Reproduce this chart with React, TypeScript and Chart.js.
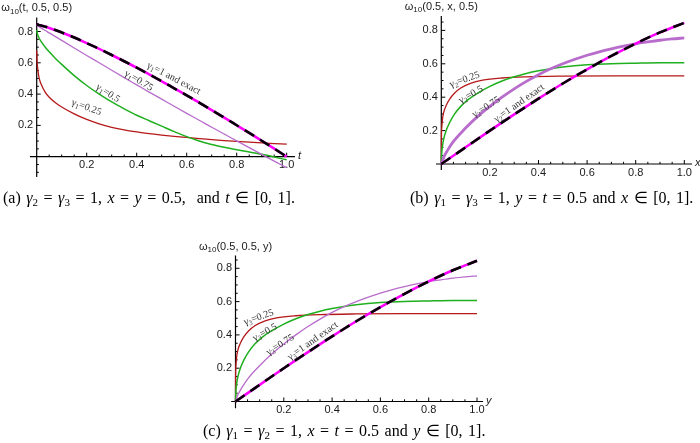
import React, { useEffect, useRef } from "react";
import { Chart, registerables } from "chart.js";

Chart.register(...registerables);

// ---------------- Data: panel (a)  ω10(t, 0.5, 0.5) ----------------
const tGrid = [0, 0.002, 0.005, 0.01, 0.02, 0.035, 0.05, 0.075, 0.1, 0.15, 0.2, 0.25, 0.3, 0.35, 0.4, 0.45, 0.5, 0.55, 0.6, 0.65, 0.7, 0.75, 0.8, 0.85, 0.9, 0.95, 1];
const timeGamma025 = [0.68, 0.6, 0.55, 0.5, 0.455, 0.41, 0.38, 0.345, 0.318, 0.274, 0.238, 0.21, 0.188, 0.171, 0.158, 0.147, 0.138, 0.13, 0.123, 0.116, 0.109, 0.103, 0.098, 0.093, 0.088, 0.084, 0.08];
const timeGamma05 = [0.81, 0.79, 0.775, 0.757, 0.73, 0.698, 0.67, 0.628, 0.59, 0.518, 0.455, 0.4, 0.35, 0.306, 0.265, 0.23, 0.195, 0.16, 0.128, 0.1, 0.078, 0.06, 0.044, 0.03, 0.015, -0.002, -0.02];
const timeGamma075 = [0.84, 0.838, 0.835, 0.83, 0.82, 0.806, 0.791, 0.767, 0.743, 0.695, 0.647, 0.6, 0.552, 0.505, 0.459, 0.413, 0.368, 0.322, 0.277, 0.233, 0.188, 0.145, 0.101, 0.058, 0.015, -0.028, -0.07];
const tExact = [0, 0.05, 0.1, 0.15, 0.2, 0.25, 0.3, 0.35, 0.4, 0.45, 0.5, 0.55, 0.6, 0.65, 0.7, 0.75, 0.8, 0.85, 0.9, 0.95, 1];
const timeExact = [0.845, 0.823, 0.794, 0.762, 0.726, 0.689, 0.65, 0.61, 0.569, 0.526, 0.482, 0.437, 0.392, 0.346, 0.298, 0.25, 0.201, 0.152, 0.102, 0.052, 0];

// ---------------- Data: panels (b) and (c)  ω10(0.5, x, 0.5), ω10(0.5, 0.5, y) ----------------
const sRedX = [0, 0.0005, 0.002, 0.005, 0.01, 0.02, 0.035, 0.055, 0.08, 0.12, 0.17, 0.25, 0.35, 0.5, 0.7, 1];
const spaceGamma025 = [0, 0.15, 0.22, 0.27, 0.31, 0.35, 0.39, 0.425, 0.455, 0.483, 0.502, 0.515, 0.522, 0.526, 0.528, 0.528];
const sGreenX = [0, 0.002, 0.005, 0.01, 0.02, 0.035, 0.055, 0.08, 0.11, 0.15, 0.2, 0.25, 0.3, 0.35, 0.4, 0.45, 0.5, 0.6, 0.7, 0.8, 0.9, 1];
const spaceGamma05 = [0, 0.07, 0.11, 0.15, 0.2, 0.25, 0.3, 0.345, 0.385, 0.425, 0.465, 0.497, 0.522, 0.542, 0.558, 0.571, 0.581, 0.594, 0.601, 0.604, 0.606, 0.606];
const sPurpleX = [0, 0.01, 0.025, 0.05, 0.1, 0.15, 0.2, 0.25, 0.3, 0.35, 0.4, 0.45, 0.5, 0.55, 0.6, 0.65, 0.7, 0.75, 0.8, 0.85, 0.9, 0.95, 1];
const spaceGamma075 = [0, 0.04, 0.08, 0.135, 0.215, 0.285, 0.345, 0.4, 0.45, 0.495, 0.535, 0.57, 0.6, 0.627, 0.651, 0.672, 0.69, 0.706, 0.72, 0.731, 0.741, 0.749, 0.755];
const sExactX = [0, 0.1, 0.2, 0.3, 0.4, 0.5, 0.6, 0.7, 0.8, 0.9, 1];
const spaceExact = [0, 0.1, 0.2, 0.297, 0.391, 0.482, 0.567, 0.647, 0.721, 0.788, 0.845];

// ---------------- Ticks ----------------
const xTickValues = [0.2, 0.4, 0.6, 0.8, 1.0];
const xTickLabels = ["0.2", "0.4", "0.6", "0.8", "1.0"];
const yTickValues = [0.2, 0.4, 0.6, 0.8];
const yTickLabels = ["0.2", "0.4", "0.6", "0.8"];

const W = 700;
const H = 443;
const SANS = '"Liberation Sans", Arial, sans-serif';
const SERIF = '"Liberation Serif", "Times New Roman", serif';

const C_RED = "#B51818";
const C_GREEN = "#1FAF1F";
const C_PURPLE = "#B86CCB";
const C_MAGENTA = "#FF00FF";

function pts(xs: number[], ys: number[]) {
  return xs.map((x, i) => ({ x, y: ys[i] }));
}

type Label = { x: number; y: number; a: number; sub: string; rest: string };

type Panel = {
  key: string;
  x0: number; xu: number; y0: number; yu: number;
  xmin: number; xmax: number; ymin: number; ymax: number;
  axisVar: string;
  titleRest: string;
  labels: Label[];
  series: { xs: number[]; ys: number[]; color: string; width: number; dash?: number[] }[];
};

function bcLabels(sub: string): Label[] {
  return [
    { x: 0.095, y: 0.51, a: -19, sub, rest: "=0.25" },
    { x: 0.12, y: 0.42, a: -29, sub, rest: "=0.5" },
    { x: 0.183, y: 0.345, a: -32, sub, rest: "=0.75" },
    { x: 0.318, y: 0.368, a: -35, sub, rest: "=1 and exact" },
  ];
}

function bcSeries(purpleWidth: number) {
  return [
    { xs: sExactX, ys: spaceExact, color: "#000000", width: 2.6, dash: [11, 7] },
    { xs: sExactX, ys: spaceExact, color: C_MAGENTA, width: 2.6 },
    { xs: sPurpleX, ys: spaceGamma075, color: C_PURPLE, width: purpleWidth },
    { xs: sGreenX, ys: spaceGamma05, color: C_GREEN, width: 1.5 },
    { xs: sRedX, ys: spaceGamma025, color: C_RED, width: 1.3 },
  ];
}

const PANELS: Panel[] = [
  {
    key: "a", x0: 36.7, xu: 250, y0: 156.7, yu: 156.5,
    xmin: -0.027, xmax: 1.033, ymin: -0.13, ymax: 0.89,
    axisVar: "t", titleRest: "(t, 0.5, 0.5)",
    labels: [
      { x: 0.55, y: 0.505, a: 28, sub: "1", rest: "=1 and exact" },
      { x: 0.41, y: 0.49, a: 31, sub: "1", rest: "=0.75" },
      { x: 0.287, y: 0.41, a: 33, sub: "1", rest: "=0.5" },
      { x: 0.2, y: 0.32, a: 20, sub: "1", rest: "=0.25" },
    ],
    series: [
      { xs: tExact, ys: timeExact, color: "#000000", width: 2.6, dash: [11, 7] },
      { xs: tExact, ys: timeExact, color: C_MAGENTA, width: 2.6 },
      { xs: tGrid, ys: timeGamma075, color: C_PURPLE, width: 1.3 },
      { xs: tGrid, ys: timeGamma05, color: C_GREEN, width: 1.5 },
      { xs: tGrid, ys: timeGamma025, color: C_RED, width: 1.3 },
    ],
  },
  {
    key: "b", x0: 441.3, xu: 243, y0: 164, yu: 167,
    xmin: -0.022, xmax: 1.032, ymin: -0.036, ymax: 0.886,
    axisVar: "x", titleRest: "(0.5, x, 0.5)",
    labels: bcLabels("2"),
    series: bcSeries(2.8),
  },
  {
    key: "c", x0: 235.5, xu: 241.5, y0: 401.5, yu: 166.5,
    xmin: -0.018, xmax: 1.025, ymin: -0.04, ymax: 0.877,
    axisVar: "y", titleRest: "(0.5, 0.5, y)",
    labels: bcLabels("3"),
    series: bcSeries(1.3),
  },
];

function decor(p: Panel) {
  return {
    id: "decor_" + p.key,
    beforeDatasetsDraw(chart: any) {
      const { ctx, chartArea: ca, scales } = chart;
      const X = (v: number) => scales.x.getPixelForValue(v);
      const Y = (v: number) => scales.y.getPixelForValue(v);
      const ox = X(0);
      const oy = Y(0);
      ctx.save();
      ctx.strokeStyle = "#000";
      ctx.lineWidth = 1.2;
      ctx.beginPath();
      ctx.moveTo(ca.left, oy);
      ctx.lineTo(ca.right, oy);
      ctx.moveTo(ox, ca.top);
      ctx.lineTo(ox, ca.bottom);
      ctx.stroke();
      ctx.lineWidth = 1;
      ctx.beginPath();
      for (let k = Math.ceil(p.xmin / 0.05); k * 0.05 <= p.xmax + 1e-9; k++) {
        if (k === 0) continue;
        const len = k % 4 === 0 ? 4 : 2.2;
        const px = X(k * 0.05);
        ctx.moveTo(px, oy);
        ctx.lineTo(px, oy - len);
      }
      for (let k = Math.ceil(p.ymin / 0.05); k * 0.05 <= p.ymax + 1e-9; k++) {
        if (k === 0) continue;
        const len = k % 4 === 0 ? 4 : 2.2;
        const py = Y(k * 0.05);
        ctx.moveTo(ox, py);
        ctx.lineTo(ox + len, py);
      }
      ctx.stroke();

      ctx.fillStyle = "#1a1a1a";
      ctx.font = `11px ${SANS}`;
      ctx.textBaseline = "middle";
      ctx.textAlign = "center";
      xTickValues.forEach((v, i) => ctx.fillText(xTickLabels[i], X(v), oy + 8.5));
      ctx.textAlign = "right";
      yTickValues.forEach((v, i) => ctx.fillText(yTickLabels[i], ox - 3.5, Y(v)));

      ctx.textAlign = "left";
      ctx.font = `italic 11px ${SANS}`;
      ctx.fillText(p.axisVar, ca.right + 3, oy - 1);

      // y-axis title  ω10(...)
      ctx.font = `11px ${SANS}`;
      const w1 = ctx.measureText("ω").width;
      const w3 = ctx.measureText(p.titleRest).width;
      ctx.font = `8px ${SANS}`;
      const w2 = ctx.measureText("10").width;
      let sx = ox - (w1 + w2 + w3) / 2;
      if (sx < 1) sx = 1;
      const ty = ca.top - 9;
      ctx.font = `11px ${SANS}`;
      ctx.fillText("ω", sx, ty);
      ctx.font = `8px ${SANS}`;
      ctx.fillText("10", sx + w1, ty + 3);
      ctx.font = `11px ${SANS}`;
      ctx.fillText(p.titleRest, sx + w1 + w2, ty);
      ctx.restore();
    },
    afterDatasetsDraw(chart: any) {
      const { ctx, scales } = chart;
      const X = (v: number) => scales.x.getPixelForValue(v);
      const Y = (v: number) => scales.y.getPixelForValue(v);
      ctx.save();
      ctx.fillStyle = "#333";
      ctx.textBaseline = "alphabetic";
      ctx.textAlign = "left";
      p.labels.forEach((l) => {
        ctx.save();
        ctx.translate(X(l.x), Y(l.y));
        ctx.rotate((l.a * Math.PI) / 180);
        ctx.font = `10px ${SERIF}`;
        const a = ctx.measureText("γ").width;
        const c = ctx.measureText(l.rest).width;
        ctx.font = `7px ${SERIF}`;
        const b = ctx.measureText(l.sub).width;
        let x = -(a + b + c) / 2;
        ctx.font = `10px ${SERIF}`;
        ctx.fillText("γ", x, 3.5);
        x += a;
        ctx.font = `7px ${SERIF}`;
        ctx.fillText(l.sub, x, 5.5);
        x += b;
        ctx.font = `10px ${SERIF}`;
        ctx.fillText(l.rest, x, 3.5);
        ctx.restore();
      });
      ctx.restore();
    },
  };
}

function PanelChart({ p }: { p: Panel }) {
  const ref = useRef<HTMLCanvasElement | null>(null);
  useEffect(() => {
    if (!ref.current) return;
    const left = p.x0 + p.xmin * p.xu;
    const right = p.x0 + p.xmax * p.xu;
    const top = p.y0 - p.ymax * p.yu;
    const bottom = p.y0 - p.ymin * p.yu;
    const chart = new Chart(ref.current, {
      type: "line",
      data: {
        datasets: p.series.map((s) => ({
          data: pts(s.xs, s.ys),
          borderColor: s.color,
          borderWidth: s.width,
          borderDash: s.dash || [],
          pointRadius: 0,
          fill: false,
          cubicInterpolationMode: "monotone",
        })),
      },
      options: {
        animation: false,
        responsive: false,
        events: [],
        layout: { padding: { left, right: W - right, top, bottom: H - bottom } },
        plugins: { legend: { display: false }, tooltip: { enabled: false } },
        scales: {
          x: { type: "linear", min: p.xmin, max: p.xmax, display: false },
          y: { type: "linear", min: p.ymin, max: p.ymax, display: false },
        },
      },
      plugins: [decor(p)],
    } as any);
    return () => chart.destroy();
  }, [p]);
  return (
    <canvas
      ref={ref}
      width={W}
      height={H}
      style={{ position: "absolute", left: 0, top: 0, width: W, height: H }}
    />
  );
}

const Sub = ({ children }: { children: React.ReactNode }) => (
  <span style={{ fontSize: "11px", position: "relative", top: "3px" }}>{children}</span>
);
const G = () => <i>γ</i>;

const capStyle: React.CSSProperties = {
  position: "absolute",
  font: `16px ${SERIF}`,
  wordSpacing: "1.5px",
  color: "#000",
  whiteSpace: "nowrap",
  lineHeight: "16px",
};

export default function App() {
  return (
    <div style={{ position: "fixed", left: 0, top: 0, width: W, height: H, background: "#fff", overflow: "hidden" }}>
      {PANELS.map((p) => (
        <PanelChart key={p.key} p={p} />
      ))}
      <div style={{ ...capStyle, left: 3, top: 190 }}>
        (a) <G /><Sub>2</Sub> = <G /><Sub>3</Sub> = 1, <i>x</i> = <i>y</i> = 0.5,&nbsp; and <i>t</i> ∈ [0, 1].
      </div>
      <div style={{ ...capStyle, left: 410, top: 190 }}>
        (b) <G /><Sub>1</Sub> = <G /><Sub>3</Sub> = 1, <i>y</i> = <i>t</i> = 0.5 and <i>x</i> ∈ [0, 1].
      </div>
      <div style={{ ...capStyle, left: 203, top: 423 }}>
        (c) <G /><Sub>1</Sub> = <G /><Sub>2</Sub> = 1, <i>x</i> = <i>t</i> = 0.5 and <i>y</i> ∈ [0, 1].
      </div>
    </div>
  );
}
